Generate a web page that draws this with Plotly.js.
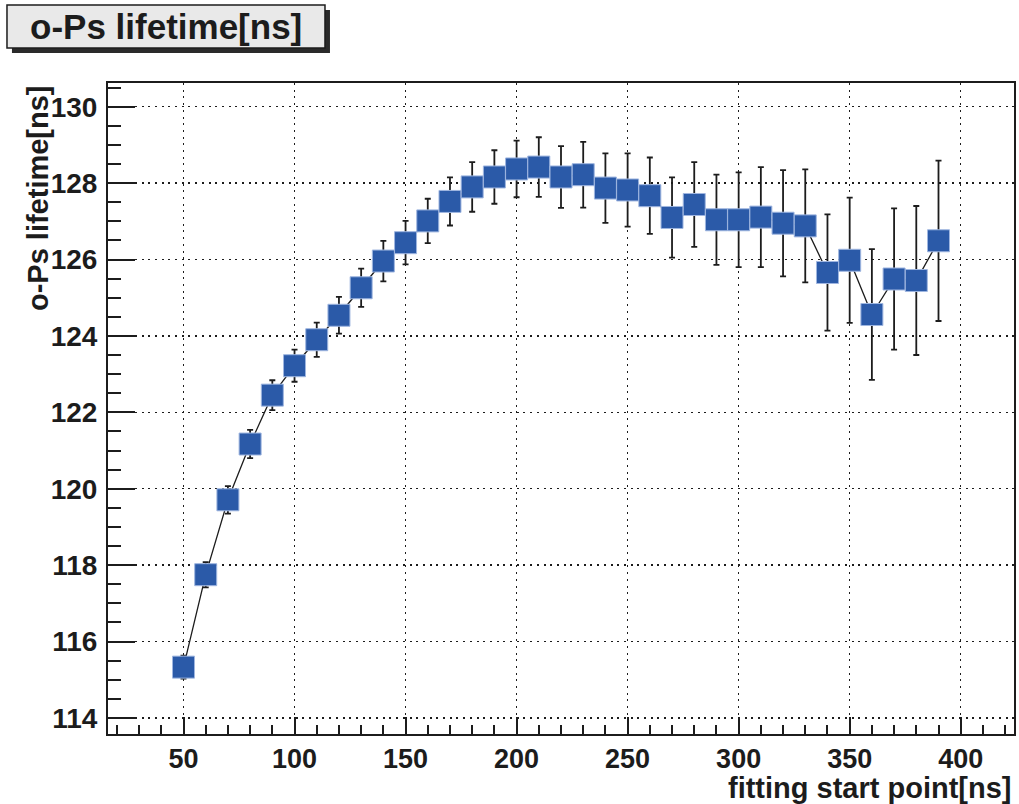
<!DOCTYPE html>
<html>
<head>
<meta charset="utf-8">
<script src="https://cdn.plot.ly/plotly-3.0.1.min.js"></script>
<style>html,body{margin:0;padding:0;background:#fff;}#chart{width:1019px;height:804px;}</style>
</head>
<body>
<div id="chart"></div>
<script>
const startPoints = [50,60,70,80,90,100,110,120,130,140,150,160,170,180,190,200,210,220,230,240,250,260,270,280,290,300,310,320,330,340,350,360,370,380,390];
const lifetimes = [115.33,117.75,119.71,121.17,122.45,123.22,123.90,124.54,125.26,125.96,126.44,127.01,127.52,127.90,128.16,128.37,128.42,128.16,128.22,127.87,127.82,127.67,127.10,127.44,127.04,127.04,127.11,126.95,126.88,125.66,125.98,124.56,125.49,125.45,126.49];
const lifetimeErrors = [0.30,0.33,0.36,0.37,0.39,0.42,0.45,0.48,0.50,0.53,0.57,0.58,0.63,0.65,0.70,0.74,0.78,0.81,0.86,0.91,0.96,1.00,1.05,1.11,1.18,1.24,1.31,1.39,1.48,1.52,1.64,1.71,1.85,1.95,2.10];

const chartTitle = 'o-Ps lifetime[ns]';
const xTitle = 'fitting start point[ns]';
const yTitle = 'o-Ps lifetime[ns]';

const FONT = 'Liberation Sans, Arial, Helvetica, sans-serif';
const INK = '#1c1c1c';

const trace = {
  x: startPoints,
  y: lifetimes,
  type: 'scatter',
  mode: 'lines+markers',
  line: {color: INK, width: 1.3},
  marker: {symbol: 'square', size: 22, color: '#2b5aa8', line: {color: '#9fb6e0', width: 1}},
  error_y: {type: 'data', array: lifetimeErrors, visible: true, color: INK, thickness: 1.8, width: 3},
  hoverinfo: 'skip'
};

const axisCommon = {
  showline: true, mirror: true, linecolor: INK, linewidth: 2,
  showgrid: true, gridcolor: INK, gridwidth: 1.5, griddash: '2px,4.7px',
  zeroline: false,
  ticks: 'inside', tickcolor: INK, tickwidth: 2
};

const layout = {
  width: 1019, height: 804,
  margin: {l: 108, r: 5, t: 83, b: 70},
  paper_bgcolor: '#ffffff', plot_bgcolor: '#ffffff',
  showlegend: false,
  xaxis: Object.assign({}, axisCommon, {
    range: [16, 424], tick0: 0, dtick: 50, ticklen: 17,
    tickfont: {family: FONT, size: 27, color: INK, weight: 'bold'},
    minor: {ticks: 'inside', dtick: 10, tick0: 0, ticklen: 9, tickcolor: INK, tickwidth: 2, showgrid: false}
  }),
  yaxis: Object.assign({}, axisCommon, {
    range: [113.58, 130.62], tick0: 114, dtick: 2, ticklen: 27, ticklabelstandoff: 3,
    tickfont: {family: FONT, size: 28, color: INK, weight: 'bold'},
    minor: {ticks: 'inside', dtick: 0.5, tick0: 114, ticklen: 13, tickcolor: INK, tickwidth: 2, showgrid: false}
  }),
  shapes: [
    {type: 'rect', xref: 'paper', yref: 'paper', x0: -0.1060, x1: 0.2450, y0: 1.0461, y1: 1.1121,
     fillcolor: '#2a2a2a', line: {width: 0}, layer: 'above'},
    {type: 'rect', xref: 'paper', yref: 'paper', x0: -0.1115, x1: 0.2395, y0: 1.0538, y1: 1.1198,
     fillcolor: '#e9e9e9', line: {color: INK, width: 1.5}, layer: 'above'}
  ],
  annotations: [
    {text: chartTitle, xref: 'paper', yref: 'paper', x: 0.0640, y: 1.0868, xanchor: 'center', yanchor: 'middle',
     showarrow: false, font: {family: FONT, size: 35, color: INK, weight: 'bold'}},
    {text: xTitle, xref: 'paper', yref: 'paper', x: 1.0, y: -0.0825, xanchor: 'right', yanchor: 'middle',
     showarrow: false, font: {family: FONT, size: 29, color: INK, weight: 'bold'}},
    {text: yTitle, xref: 'paper', yref: 'paper', x: -0.0772, y: 1.0, xanchor: 'center', yanchor: 'top', textangle: -90,
     showarrow: false, font: {family: FONT, size: 29, color: INK, weight: 'bold'}}
  ]
};

Plotly.newPlot('chart', [trace], layout, {displayModeBar: false, staticPlot: true});
</script>
</body>
</html>
